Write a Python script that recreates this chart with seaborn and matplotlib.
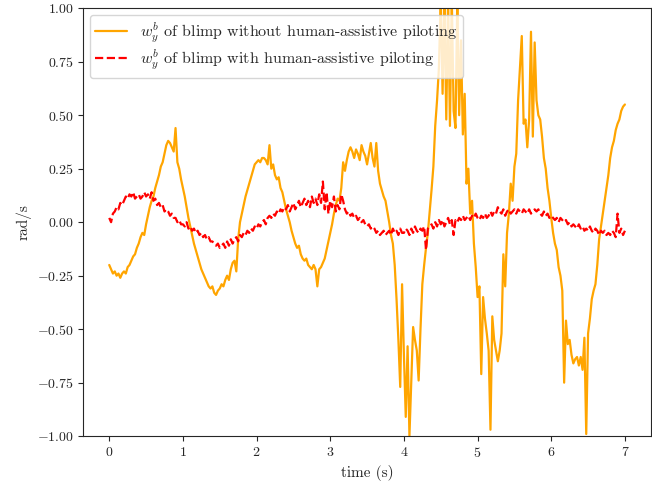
import numpy as np
import pandas as pd
import seaborn as sns
import matplotlib.pyplot as plt

# time axis, one sample every 0.025 s
t = np.round(np.arange(0, 7.0001, 0.025), 3)

# w_y^b without human-assistive piloting
w_without = [
    -0.20, -0.22, -0.24, -0.23,  -0.25, -0.24, -0.26, -0.24,
    -0.23, -0.24, -0.21, -0.20,  -0.18, -0.16, -0.15, -0.12,
    -0.10, -0.07, -0.05, -0.06,  -0.01, 0.03, 0.07, 0.10,
    0.12, 0.16, 0.19, 0.22,  0.26, 0.28, 0.32, 0.36,
    0.38, 0.37, 0.35, 0.33,  0.44, 0.28, 0.25, 0.20,
    0.16, 0.12, 0.07, 0.02,  -0.02, -0.06, -0.10, -0.13,
    -0.16, -0.19, -0.22, -0.24,  -0.26, -0.28, -0.30, -0.31,
    -0.30, -0.33, -0.34, -0.32,  -0.31, -0.29, -0.30, -0.27,
    -0.25, -0.27, -0.22, -0.19,  -0.18, -0.23, -0.08, 0.00,
    0.04, 0.08, 0.12, 0.15,  0.18, 0.21, 0.24, 0.27,
    0.28, 0.29, 0.28, 0.30,  0.30, 0.29, 0.27, 0.36,
    0.25, 0.27, 0.22, 0.20,  0.21, 0.16, 0.14, 0.10,
    0.06, 0.03, 0.00, -0.04,  -0.07, -0.10, -0.12, -0.11,
    -0.15, -0.17, -0.18, -0.17,  -0.20, -0.21, -0.22, -0.20,
    -0.22, -0.30, -0.22, -0.21,  -0.19, -0.17, -0.13, -0.09,
    -0.05, -0.01, 0.04, 0.08,  0.11, 0.10, 0.16, 0.28,
    0.24, 0.29, 0.33, 0.35,  0.33, 0.30, 0.34, 0.32,
    0.29, 0.36, 0.33, 0.31,  0.27, 0.32, 0.37, 0.30,
    0.26, 0.37, 0.24, 0.18,  0.15, 0.12, 0.10, 0.05,
    0.00, -0.06, -0.10, -0.20,  -0.36, -0.55, -0.77, -0.29,
    -0.62, -0.91, -0.58, -1.00,  -0.74, -0.49, -0.55, -0.60,
    -0.74, -0.50, -0.29, -0.20,  -0.12, -0.05, 0.05, 0.15,
    0.26, 0.45, 0.57, 0.72,  1.05, 0.60, 1.05, 0.48,
    1.05, 0.45, 1.05, 0.52,  0.44, 1.05, 0.50, 0.85,
    0.41, 0.60, 0.18, 0.25,  0.04, 0.10, -0.10, -0.21,
    -0.35, -0.30, -0.71, -0.35,  -0.45, -0.52, -0.60, -0.97,
    -0.44, -0.55, -0.60, -0.65,  -0.60, -0.52, -0.15, -0.30,
    -0.05, 0.04, 0.18, 0.10,  0.26, 0.32, 0.57, 0.72,
    0.87, 0.46, 0.48, 0.35,  0.48, 0.89, 0.40, 0.84,
    0.57, 0.50, 0.48, 0.40,  0.30, 0.25, 0.16, 0.10,
    0.02, -0.05, -0.10, -0.13,  -0.21, -0.25, -0.32, -0.75,
    -0.46, -0.57, -0.55, -0.62,  -0.66, -0.64, -0.63, -0.67,
    -0.63, -0.69, -0.54, -0.99,  -0.52, -0.45, -0.36, -0.32,
    -0.29, -0.20, -0.08, -0.02,  0.04, 0.10, 0.16, 0.22,
    0.30, 0.35, 0.38, 0.43,  0.46, 0.48, 0.52, 0.54,
    0.55,
]

# w_y^b with human-assistive piloting
w_with = [
    0.02, 0.00, 0.04, 0.05,  0.07, 0.06, 0.09, 0.08,
    0.10, 0.12, 0.11, 0.13,  0.12, 0.14, 0.11, 0.12,
    0.13, 0.11, 0.12, 0.14,  0.12, 0.13, 0.11, 0.14,
    0.10, 0.11, 0.08, 0.09,  0.07, 0.08, 0.05, 0.06,
    0.05, 0.03, 0.04, 0.02,  0.02, 0.00, 0.01, -0.01,
    -0.01, -0.02, 0.00, -0.03,  -0.02, -0.04, -0.03, -0.05,
    -0.04, -0.06, -0.05, -0.07,  -0.06, -0.08, -0.07, -0.09,
    -0.09, -0.10, -0.11, -0.10,  -0.12, -0.11, -0.10, -0.12,
    -0.09, -0.11, -0.08, -0.10,  -0.08, -0.07, -0.09, -0.06,
    -0.07, -0.05, -0.06, -0.04,  -0.05, -0.03, -0.04, -0.02,
    -0.03, -0.01, -0.02, 0.00,  0.01, -0.01, 0.02, 0.03,
    0.02, 0.04, 0.03, 0.05,  0.04, 0.06, 0.05, 0.07,
    0.06, 0.08, 0.05, 0.07,  0.09, 0.06, 0.08, 0.10,
    0.07, 0.09, 0.11, 0.08,  0.10, 0.07, 0.12, 0.09,
    0.11, 0.08, 0.13, 0.09,  0.19, 0.06, 0.14, 0.04,
    0.10, 0.07, 0.12, 0.05,  0.08, 0.06, 0.13, 0.10,
    0.06, 0.04, 0.05, 0.03,  0.04, 0.02, 0.03, 0.01,
    0.02, 0.00, 0.01, -0.01,  -0.02, -0.01, -0.03, -0.02,
    -0.03, -0.05, -0.04, -0.06,  -0.05, -0.04, -0.06, -0.05,
    -0.04, -0.06, -0.03, -0.05,  -0.04, -0.06, -0.03, -0.05,
    -0.05, -0.03, -0.04, -0.06,  -0.03, -0.05, -0.02, -0.04,
    -0.05, -0.03, -0.04, -0.02,  -0.13, -0.03, -0.02, -0.01,
    -0.03, 0.00, -0.02, 0.01,  -0.01, 0.01, -0.02, 0.00,
    0.02, -0.01, 0.01, -0.06,  0.01, 0.00, 0.02, 0.01,
    0.03, 0.01, 0.02, 0.03,  0.01, 0.03, 0.02, 0.04,
    0.02, 0.01, 0.03, 0.02,  0.04, 0.02, 0.03, 0.05,
    0.03, 0.05, 0.04, 0.07,  0.05, 0.04, 0.06, 0.03,
    0.05, 0.06, 0.04, 0.05,  0.06, 0.04, 0.06, 0.05,
    0.04, 0.06, 0.05, 0.04,  0.06, 0.04, 0.05, 0.06,
    0.05, 0.06, 0.04, 0.03,  0.05, 0.03, 0.04, 0.02,
    0.03, 0.02, 0.01, 0.02,  0.00, 0.02, 0.01, 0.00,
    0.01, -0.01, 0.00, -0.02,  -0.01, -0.02, -0.03, -0.01,
    -0.03, -0.02, -0.04, -0.03,  -0.04, -0.02, -0.04, -0.05,
    -0.03, -0.04, -0.06, -0.04,  -0.05, -0.04, -0.06, -0.05,
    -0.06, -0.04, -0.05, -0.07,  0.04, -0.05, -0.03, -0.06,
    -0.04,
]

label_without = r'$w_y^b$ of blimp without human-assistive piloting'
label_with = r'$w_y^b$ of blimp with human-assistive piloting'

sns.set_style("ticks")
plt.rcParams['font.family'] = ['cmr10', 'DejaVu Serif']
plt.rcParams['mathtext.fontset'] = 'cm'
plt.rcParams['axes.formatter.use_mathtext'] = True
plt.rcParams['axes.unicode_minus'] = True

df = pd.DataFrame({"t": t, "without": w_without, "with": w_with})

fig, ax = plt.subplots(figsize=(6.52, 4.83), dpi=100)
sns.lineplot(data=df, x="t", y="without", ax=ax, color="orange",
             linewidth=1.6, label=label_without)
sns.lineplot(data=df, x="t", y="with", ax=ax, color="red",
             linewidth=1.6, linestyle="--", label=label_with)

ax.set_ylim(-1, 1)
ax.set_xlabel("time (s)", fontsize=11)
ax.set_ylabel("rad/s", fontsize=11)
ax.legend(loc="upper left", fontsize=11.5, labelspacing=0.2,
          borderaxespad=0.4, borderpad=0.35)

fig.subplots_adjust(left=0.128, right=0.998, top=0.983, bottom=0.097)
fig.savefig("out.png", dpi=100)
